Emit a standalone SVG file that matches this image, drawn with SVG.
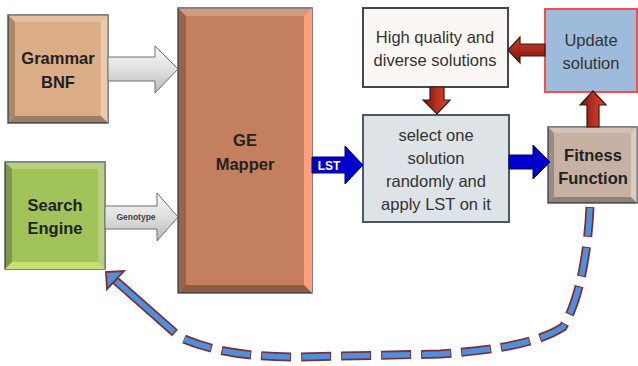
<svg xmlns="http://www.w3.org/2000/svg" width="638" height="366" viewBox="0 0 638 366">
<defs>
<linearGradient id="gArrow" x1="0" y1="0" x2="0" y2="1">
<stop offset="0" stop-color="#f6f6f6"/><stop offset="0.5" stop-color="#e0e0e0"/><stop offset="1" stop-color="#b8b8b8"/>
</linearGradient>
<linearGradient id="rArrowH" x1="0" y1="0" x2="0" y2="1">
<stop offset="0" stop-color="#c8402e"/><stop offset="0.5" stop-color="#a8281c"/><stop offset="1" stop-color="#6e1208"/>
</linearGradient>
<linearGradient id="rArrowV" x1="0" y1="0" x2="1" y2="0">
<stop offset="0" stop-color="#6e1208"/><stop offset="0.5" stop-color="#b8301f"/><stop offset="1" stop-color="#d04a35"/>
</linearGradient>
</defs>
<style>
.box{stroke:#4e5c68;stroke-width:1.5}
.hi{fill:#ffffff;opacity:0.22}
.hir{fill:#ffffff;opacity:0.35}
.sh{fill:#000000;opacity:0.28}
.shl{fill:#000000;opacity:0.22}
.bold{font-family:"Liberation Sans",Arial,sans-serif;font-weight:bold;font-size:16.5px;fill:#222;text-anchor:middle}
.reg{font-family:"Liberation Sans",Arial,sans-serif;font-size:16.5px;fill:#333;text-anchor:middle}
.garrow{fill:url(#gArrow);stroke:#707070;stroke-width:1}
.barrow{fill:#0000cc;stroke:#00006e;stroke-width:1}
.rarrowh{fill:url(#rArrowH);stroke:#3a1a12;stroke-width:1.2}
.rarrowv{fill:url(#rArrowV);stroke:#3a1a12;stroke-width:1.2}
.dashO{fill:none;stroke:#7b2f33;stroke-width:9;stroke-dasharray:30 10}
.dashI{fill:none;stroke:#4f8fdc;stroke-width:5.5;stroke-dasharray:28 12;stroke-dashoffset:-1}
</style>

<g id="grammar-bnf">
<rect class="box" x="8" y="15" width="100" height="108" fill="#dcae88"/>
<polygon class="hi" points="8,15 108,15 101,22 15,22"/>
<polygon class="hir" points="108,15 108,123 101,116 101,22"/>
<polygon class="sh" points="8,123 108,123 101,116 15,116"/>
<polygon class="shl" points="8,15 8,123 15,116 15,22"/>
<text class="bold" x="58" y="64">Grammar</text>
<text class="bold" x="58" y="88">BNF</text>
</g>

<g id="ge-mapper">
<rect class="box" x="178" y="8" width="134" height="285" fill="#c47f5f"/>
<polygon class="hi" points="178,8 312,8 304,16 186,16"/>
<polygon points="312,8 312,293 304,285 304,16" fill="#ff9f7c"/>
<polygon class="sh" points="178,293 312,293 304,285 186,285"/>
<polygon class="shl" points="178,8 178,293 186,285 186,16"/>
<text class="bold" x="245" y="146">GE</text>
<text class="bold" x="245" y="170">Mapper</text>
</g>

<g id="search-engine">
<rect class="box" x="5" y="162" width="100" height="107" fill="#a2c35a"/>
<polygon class="hi" points="5,162 105,162 98,169 12,169"/>
<polygon class="hi" points="105,162 105,269 98,262 98,169"/>
<polygon points="5,269 105,269 98,262 12,262" fill="#c8e070"/>
<polygon class="shl" points="5,162 5,269 12,262 12,169"/>
<text class="bold" x="55" y="211">Search</text>
<text class="bold" x="55" y="234">Engine</text>
</g>

<g id="high-quality">
<rect x="363" y="8" width="145" height="79" fill="#fbf7f4" stroke="#3f4a4f" stroke-width="2"/>
<text class="reg" x="435" y="43">High quality and</text>
<text class="reg" x="435" y="66">diverse solutions</text>
</g>

<g id="update-solution">
<rect x="545" y="9" width="92" height="83" fill="#9fbbdb" stroke="#ff4a4a" stroke-width="2"/>
<text class="reg" x="591" y="46">Update</text>
<text class="reg" x="591" y="69">solution</text>
</g>

<g id="select-one">
<rect x="363" y="115" width="146" height="107" fill="#dde3e6" stroke="#4a5a60" stroke-width="2"/>
<text class="reg" x="436" y="141">select one</text>
<text class="reg" x="436" y="164">solution</text>
<text class="reg" x="436" y="187">randomly and</text>
<text class="reg" x="436" y="210">apply LST on it</text>
</g>

<g id="fitness-function">
<rect class="box" x="548" y="127" width="89" height="76" fill="#c7b1a3"/>
<polygon class="hi" points="548,127 637,127 631,133 554,133"/>
<polygon class="hir" points="637,127 637,203 631,197 631,133"/>
<polygon class="sh" points="548,203 637,203 631,197 554,197"/>
<polygon class="shl" points="548,127 548,203 554,197 554,133"/>
<text class="bold" x="593" y="161">Fitness</text>
<text class="bold" x="593" y="184">Function</text>
</g>

<g id="connectors">
<polygon class="garrow" points="108,57 155,57 155,46 178,69 155,93 155,81 108,81"/>
<polygon class="garrow" points="105,206 157,206 157,193 178,217 157,241 157,229 105,229"/>
<text x="136" y="220" font-family="Liberation Sans, Arial, sans-serif" font-weight="bold" font-size="8.5" fill="#444" text-anchor="middle">Genotype</text>
<polygon class="barrow" points="312,157 345,157 345,146 363,165 345,184 345,173 312,173"/>
<text x="329" y="170" font-family="Liberation Sans, Arial, sans-serif" font-weight="bold" font-size="12" fill="#ffffff" text-anchor="middle">LST</text>
<polygon class="barrow" points="509,155 533,155 533,145 550,162 533,179 533,169 509,169"/>
<polygon class="rarrowh" points="545,44 520,44 520,37 508,50 520,63 520,56 545,56"/>
<polygon class="rarrowv" points="430,87 444,87 444,100 450,100 437,114 423,100 430,100"/>
<polygon class="rarrowv" points="587,127 599,127 599,105 606,105 593,91 580,105 587,105"/>
<path class="dashO" d="M590,207 C588,250 580,300 563,327 C540,342 500,350 440,354 L300,357 C250,357 215,352 184,339"/>
<path class="dashI" d="M590,207 C588,250 580,300 563,327 C540,342 500,350 440,354 L300,357 C250,357 215,352 184,339"/>
<line x1="175" y1="333" x2="115" y2="280" stroke="#7b2f33" stroke-width="9"/>
<line x1="174" y1="332" x2="116" y2="281" stroke="#4f8fdc" stroke-width="5.5"/>
<polygon points="106,272 124,271 107,289" fill="#4f8fdc" stroke="#7b2f33" stroke-width="1.8"/>
</g>
</svg>
